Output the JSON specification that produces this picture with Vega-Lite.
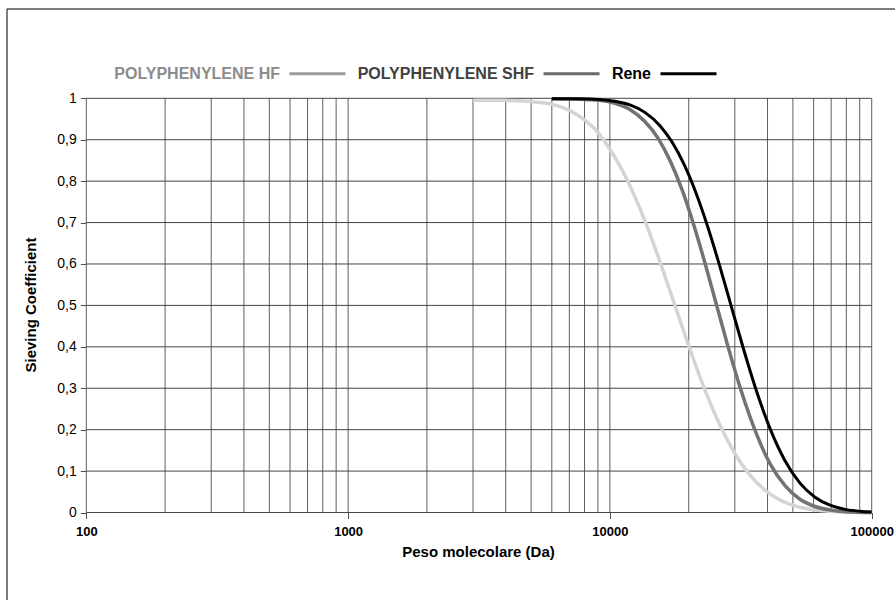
{
  "$schema": "https://vega.github.io/schema/vega-lite/v6.json",
  "width": 888,
  "height": 591,
  "autosize": {"type": "none"},
  "padding": {"left": 7, "top": 9, "right": 0, "bottom": 0},
  "background": "white",
  "config": {
    "view": {"stroke": null},
    "font": "Liberation Sans"
  },
  "datasets": {
    "curves": [
      {"MW": 3000, "SC": 0.995, "series": "POLYPHENYLENE HF"},
      {"MW": 4000, "SC": 0.995, "series": "POLYPHENYLENE HF"},
      {"MW": 5000, "SC": 0.992, "series": "POLYPHENYLENE HF"},
      {"MW": 6000, "SC": 0.986, "series": "POLYPHENYLENE HF"},
      {"MW": 7000, "SC": 0.971, "series": "POLYPHENYLENE HF"},
      {"MW": 8000, "SC": 0.948, "series": "POLYPHENYLENE HF"},
      {"MW": 9000, "SC": 0.918, "series": "POLYPHENYLENE HF"},
      {"MW": 10000, "SC": 0.877, "series": "POLYPHENYLENE HF"},
      {"MW": 11110, "SC": 0.828, "series": "POLYPHENYLENE HF"},
      {"MW": 12350, "SC": 0.768, "series": "POLYPHENYLENE HF"},
      {"MW": 13730, "SC": 0.698, "series": "POLYPHENYLENE HF"},
      {"MW": 15260, "SC": 0.619, "series": "POLYPHENYLENE HF"},
      {"MW": 16960, "SC": 0.535, "series": "POLYPHENYLENE HF"},
      {"MW": 18840, "SC": 0.45, "series": "POLYPHENYLENE HF"},
      {"MW": 20940, "SC": 0.367, "series": "POLYPHENYLENE HF"},
      {"MW": 23270, "SC": 0.29, "series": "POLYPHENYLENE HF"},
      {"MW": 26330, "SC": 0.211, "series": "POLYPHENYLENE HF"},
      {"MW": 30030, "SC": 0.142, "series": "POLYPHENYLENE HF"},
      {"MW": 34280, "SC": 0.09, "series": "POLYPHENYLENE HF"},
      {"MW": 39110, "SC": 0.054, "series": "POLYPHENYLENE HF"},
      {"MW": 44620, "SC": 0.03, "series": "POLYPHENYLENE HF"},
      {"MW": 50920, "SC": 0.016, "series": "POLYPHENYLENE HF"},
      {"MW": 58100, "SC": 0.008, "series": "POLYPHENYLENE HF"},
      {"MW": 69290, "SC": 0.003, "series": "POLYPHENYLENE HF"},
      {"MW": 82620, "SC": 0.001, "series": "POLYPHENYLENE HF"},
      {"MW": 100000, "SC": 0.0, "series": "POLYPHENYLENE HF"},
      {"MW": 6000, "SC": 0.999, "series": "POLYPHENYLENE SHF"},
      {"MW": 7680, "SC": 0.998, "series": "POLYPHENYLENE SHF"},
      {"MW": 9160, "SC": 0.995, "series": "POLYPHENYLENE SHF"},
      {"MW": 10450, "SC": 0.988, "series": "POLYPHENYLENE SHF"},
      {"MW": 11930, "SC": 0.973, "series": "POLYPHENYLENE SHF"},
      {"MW": 13600, "SC": 0.944, "series": "POLYPHENYLENE SHF"},
      {"MW": 15260, "SC": 0.904, "series": "POLYPHENYLENE SHF"},
      {"MW": 16960, "SC": 0.85, "series": "POLYPHENYLENE SHF"},
      {"MW": 18840, "SC": 0.78, "series": "POLYPHENYLENE SHF"},
      {"MW": 20940, "SC": 0.693, "series": "POLYPHENYLENE SHF"},
      {"MW": 23270, "SC": 0.594, "series": "POLYPHENYLENE SHF"},
      {"MW": 25570, "SC": 0.5, "series": "POLYPHENYLENE SHF"},
      {"MW": 28240, "SC": 0.401, "series": "POLYPHENYLENE SHF"},
      {"MW": 31680, "SC": 0.295, "series": "POLYPHENYLENE SHF"},
      {"MW": 35910, "SC": 0.197, "series": "POLYPHENYLENE SHF"},
      {"MW": 40870, "SC": 0.118, "series": "POLYPHENYLENE SHF"},
      {"MW": 46650, "SC": 0.065, "series": "POLYPHENYLENE SHF"},
      {"MW": 53210, "SC": 0.032, "series": "POLYPHENYLENE SHF"},
      {"MW": 60730, "SC": 0.0145, "series": "POLYPHENYLENE SHF"},
      {"MW": 69290, "SC": 0.006, "series": "POLYPHENYLENE SHF"},
      {"MW": 79070, "SC": 0.002, "series": "POLYPHENYLENE SHF"},
      {"MW": 100000, "SC": 0.0, "series": "POLYPHENYLENE SHF"},
      {"MW": 6000, "SC": 0.999, "series": "Rene"},
      {"MW": 7680, "SC": 0.999, "series": "Rene"},
      {"MW": 9160, "SC": 0.997, "series": "Rene"},
      {"MW": 10450, "SC": 0.993, "series": "Rene"},
      {"MW": 11930, "SC": 0.984, "series": "Rene"},
      {"MW": 13600, "SC": 0.966, "series": "Rene"},
      {"MW": 15530, "SC": 0.934, "series": "Rene"},
      {"MW": 17250, "SC": 0.895, "series": "Rene"},
      {"MW": 19180, "SC": 0.841, "series": "Rene"},
      {"MW": 21310, "SC": 0.772, "series": "Rene"},
      {"MW": 23690, "SC": 0.688, "series": "Rene"},
      {"MW": 26330, "SC": 0.593, "series": "Rene"},
      {"MW": 29010, "SC": 0.5, "series": "Rene"},
      {"MW": 32240, "SC": 0.399, "series": "Rene"},
      {"MW": 36140, "SC": 0.297, "series": "Rene"},
      {"MW": 40870, "SC": 0.203, "series": "Rene"},
      {"MW": 46650, "SC": 0.125, "series": "Rene"},
      {"MW": 53210, "SC": 0.071, "series": "Rene"},
      {"MW": 60730, "SC": 0.037, "series": "Rene"},
      {"MW": 69290, "SC": 0.0176, "series": "Rene"},
      {"MW": 79070, "SC": 0.0076, "series": "Rene"},
      {"MW": 90230, "SC": 0.003, "series": "Rene"},
      {"MW": 100000, "SC": 0.001, "series": "Rene"}
    ],
    "vgrid": [
      {"v": 100}, {"v": 200}, {"v": 300}, {"v": 400}, {"v": 500}, {"v": 600}, {"v": 700}, {"v": 800}, {"v": 900},
      {"v": 1000}, {"v": 2000}, {"v": 3000}, {"v": 4000}, {"v": 5000}, {"v": 6000}, {"v": 7000}, {"v": 8000}, {"v": 9000},
      {"v": 10000}, {"v": 20000}, {"v": 30000}, {"v": 40000}, {"v": 50000}, {"v": 60000}, {"v": 70000}, {"v": 80000}, {"v": 90000},
      {"v": 100000}
    ],
    "hgrid": [
      {"h": 0}, {"h": 0.1}, {"h": 0.2}, {"h": 0.3}, {"h": 0.4}, {"h": 0.5}, {"h": 0.6}, {"h": 0.7}, {"h": 0.8}, {"h": 0.9}, {"h": 1}
    ]
  },
  "layer": [
    {
      "data": {"name": "vgrid"},
      "mark": {"type": "rule", "color": "#5e5e5e", "strokeWidth": 1},
      "encoding": {
        "x": {
          "field": "v", "type": "quantitative",
          "scale": {"type": "log", "domain": [49.78, 122740], "nice": false},
          "axis": {
            "orient": "bottom", "offset": -87.5, "values": [100, 1000, 10000, 100000], "format": "d",
            "domain": false, "grid": false, "ticks": true, "tickSize": 6, "tickColor": "#505050",
            "labelFont": "Liberation Sans", "labelFontSize": 13, "labelFontWeight": "bold", "labelColor": "#000000", "labelPadding": 7,
            "title": "Peso molecolare (Da)", "titleFont": "Liberation Sans", "titleFontSize": 15, "titleFontWeight": "bold", "titleColor": "#000000",
            "titleX": 471, "titlePadding": 6
          }
        },
        "y": {
          "datum": 0, "type": "quantitative",
          "scale": {"domain": [-0.21125, 1.2156], "nice": false, "zero": false},
          "axis": {
            "orient": "left", "offset": -79.3, "values": [0, 0.1, 0.2, 0.3, 0.4, 0.5, 0.6, 0.7, 0.8, 0.9, 1],
            "labelExpr": "replace(format(datum.value, '.1~f'), '.', ',')",
            "domain": false, "grid": false, "ticks": true, "tickSize": 6, "tickColor": "#505050",
            "labelFont": "Liberation Sans", "labelFontSize": 14, "labelColor": "#000000", "labelPadding": 4,
            "title": "Sieving Coefficient", "titleFont": "Liberation Sans", "titleFontSize": 15, "titleFontWeight": "bold", "titleColor": "#000000",
            "titlePadding": 18
          }
        },
        "y2": {"datum": 1}
      }
    },
    {
      "data": {"name": "hgrid"},
      "mark": {"type": "rule", "color": "#454545", "strokeWidth": 1},
      "encoding": {
        "y": {"field": "h", "type": "quantitative", "scale": {"domain": [-0.21125, 1.2156], "nice": false, "zero": false}},
        "x": {"datum": 100, "type": "quantitative", "scale": {"type": "log", "domain": [49.78, 122740], "nice": false}},
        "x2": {"datum": 100000}
      }
    },
    {
      "data": {"values": [{}]},
      "mark": {"type": "rule", "color": "#505050", "strokeWidth": 1.5},
      "encoding": {
        "x": {"datum": 49.78, "type": "quantitative", "scale": {"type": "log", "domain": [49.78, 122740], "nice": false}},
        "y": {"datum": -0.21125, "type": "quantitative", "scale": {"domain": [-0.21125, 1.2156], "nice": false, "zero": false}},
        "y2": {"datum": 1.2156}
      }
    },
    {
      "data": {"values": [{}]},
      "mark": {"type": "rule", "color": "#505050", "strokeWidth": 1.5},
      "encoding": {
        "y": {"datum": 1.2156, "type": "quantitative", "scale": {"domain": [-0.21125, 1.2156], "nice": false, "zero": false}},
        "x": {"datum": 49.78, "type": "quantitative", "scale": {"type": "log", "domain": [49.78, 122740], "nice": false}},
        "x2": {"datum": 122740}
      }
    },
    {
      "data": {"name": "curves"},
      "transform": [{"filter": {"field": "series", "equal": "POLYPHENYLENE HF"}}],
      "mark": {"type": "line", "interpolate": "monotone", "strokeCap": "butt", "color": "#d4d4d4", "strokeWidth": 3.5},
      "encoding": {
        "x": {"field": "MW", "type": "quantitative", "scale": {"type": "log", "domain": [49.78, 122740], "nice": false}},
        "y": {"field": "SC", "type": "quantitative", "scale": {"domain": [-0.21125, 1.2156], "nice": false, "zero": false}}
      }
    },
    {
      "data": {"name": "curves"},
      "transform": [{"filter": {"field": "series", "equal": "POLYPHENYLENE SHF"}}],
      "mark": {"type": "line", "interpolate": "monotone", "strokeCap": "butt", "color": "#737373", "strokeWidth": 3.5},
      "encoding": {
        "x": {"field": "MW", "type": "quantitative", "scale": {"type": "log", "domain": [49.78, 122740], "nice": false}},
        "y": {"field": "SC", "type": "quantitative", "scale": {"domain": [-0.21125, 1.2156], "nice": false, "zero": false}}
      }
    },
    {
      "data": {"name": "curves"},
      "transform": [{"filter": {"field": "series", "equal": "Rene"}}],
      "mark": {"type": "line", "interpolate": "monotone", "strokeCap": "butt", "color": "#000000", "strokeWidth": 3},
      "encoding": {
        "x": {"field": "MW", "type": "quantitative", "scale": {"type": "log", "domain": [49.78, 122740], "nice": false}},
        "y": {"field": "SC", "type": "quantitative", "scale": {"domain": [-0.21125, 1.2156], "nice": false, "zero": false}}
      }
    },
    {
      "data": {"name": "curves"},
      "mark": {"type": "line", "opacity": 0},
      "encoding": {
        "x": {"field": "MW", "type": "quantitative", "scale": {"type": "log", "domain": [49.78, 122740], "nice": false}},
        "y": {"field": "SC", "type": "quantitative", "scale": {"domain": [-0.21125, 1.2156], "nice": false, "zero": false}},
        "color": {
          "field": "series", "type": "nominal",
          "scale": {"domain": ["POLYPHENYLENE HF", "POLYPHENYLENE SHF", "Rene"], "range": ["#9a9a9a", "#6a6a6a", "#000000"]},
          "legend": {
            "orient": "none", "legendX": 281, "legendY": 35, "direction": "horizontal", "title": null,
            "padding": 0, "symbolType": "stroke", "symbolSize": 3136, "symbolStrokeWidth": 3, "symbolOpacity": 1,
            "labelAlign": "right", "labelOffset": -67, "labelFont": "Liberation Sans", "labelFontSize": 16, "labelFontWeight": "bold",
            "labelLimit": 400, "columnPadding": 5,
            "encode": {
              "labels": {"update": {"fill": {"signal": "datum.label == 'Rene' ? '#000000' : datum.label == 'POLYPHENYLENE SHF' ? '#404040' : '#8c8c8c'"}}}
            }
          }
        }
      }
    }
  ]
}
